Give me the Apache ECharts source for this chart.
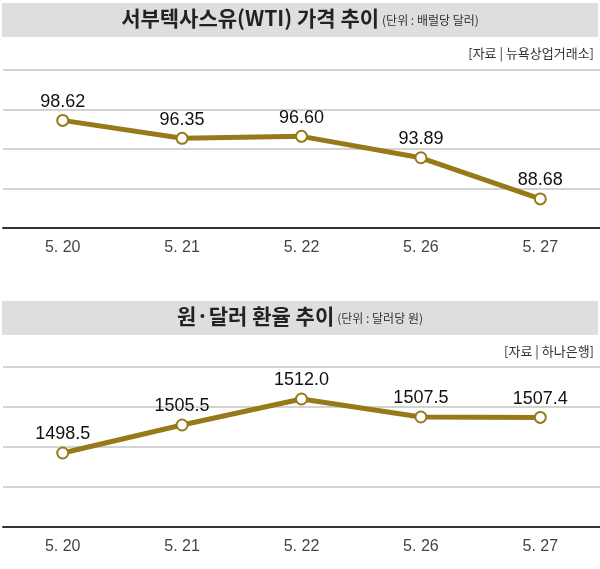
<!DOCTYPE html>
<html><head><meta charset="utf-8">
<script src="https://cdn.jsdelivr.net/npm/echarts@6/dist/echarts.min.js"></script>
<style>html,body{margin:0;padding:0;background:#fff}#c{width:600px;height:569px}</style>
</head><body><div id="c"></div>
<script>
const categories = ['5. 20', '5. 21', '5. 22', '5. 26', '5. 27'];
const wtiValues = [98.62, 96.35, 96.60, 93.89, 88.68];
const wtiLabels = ['98.62', '96.35', '96.60', '93.89', '88.68'];
const fxValues = [1498.5, 1505.5, 1512.0, 1507.5, 1507.4];
const fxLabels = ['1498.5', '1505.5', '1512.0', '1507.5', '1507.4'];
const titles = ['서부텍사스유(WTI) 가격 추이', '원·달러 환율 추이'];
const units = ['(단위 : 배럴당 달러)', '(단위 : 달러당 원)'];
const sources = ['[자료 | 뉴욕상업거래소]', '[자료 | 하나은행]'];

const LINE = '#98791a';
const FONT = '"Noto Sans CJK KR", "Noto Sans", sans-serif';
const NUM = '"Liberation Sans", Arial, sans-serif';
const chart = echarts.init(document.getElementById('c'), null, {renderer: 'canvas'});

function xAxis(i) {
  return {
    type: 'category', gridIndex: i, data: categories, boundaryGap: true,
    axisLine: {show: true, lineStyle: {color: '#333', width: 2}},
    axisTick: {show: false},
    axisLabel: {color: '#444', fontSize: 16, margin: 12, fontFamily: NUM},
    splitLine: {show: false}
  };
}
function yAxis(i, min, max, interval) {
  return {
    type: 'value', gridIndex: i, min: min, max: max, interval: interval,
    axisLine: {show: false}, axisTick: {show: false}, axisLabel: {show: false},
    splitLine: {show: true, lineStyle: {color: '#c4c4c4', width: 1.5}}
  };
}
function series(i, values, labels) {
  return {
    type: 'line', xAxisIndex: i, yAxisIndex: i, data: values,
    symbol: 'emptyCircle', symbolSize: 11,
    lineStyle: {color: LINE, width: 5},
    itemStyle: {color: LINE, borderWidth: 2.5},
    label: {
      show: true, position: 'top', distance: 3,
      color: '#111', fontSize: 18, fontFamily: NUM,
      formatter: p => labels[p.dataIndex]
    },
    animation: false
  };
}
function header(top, idx) {
  return [
    {type: 'rect', left: 2, top: top, shape: {width: 596, height: 34}, style: {fill: '#dedede'}, z: -1},
    {type: 'text', left: 'center', top: top + 5, style: {
      rich: {
        t: {fontSize: 21, fontWeight: 'bold', fill: '#222', fontFamily: FONT, verticalAlign: 'bottom'},
        u: {fontSize: 12, fill: '#333', fontFamily: FONT, verticalAlign: 'bottom', padding: [0, 0, 3, 3]}
      },
      text: '{t|' + titles[idx] + '}{u|' + units[idx] + '}'
    }},
    {type: 'text', right: 6, top: top + 44, style: {text: sources[idx], fontSize: 13, fill: '#333', fontFamily: FONT}}
  ];
}

chart.setOption({
  animation: false,
  grid: [
    {left: 3, right: 0, top: 70, height: 158},
    {left: 3, right: 0, top: 367, height: 160}
  ],
  xAxis: [xAxis(0), xAxis(1)],
  yAxis: [yAxis(0, 85, 105, 5), yAxis(1, 1480, 1520, 10)],
  series: [series(0, wtiValues, wtiLabels), series(1, fxValues, fxLabels)],
  graphic: header(3, 0).concat(header(301, 1))
});
</script></body></html>
